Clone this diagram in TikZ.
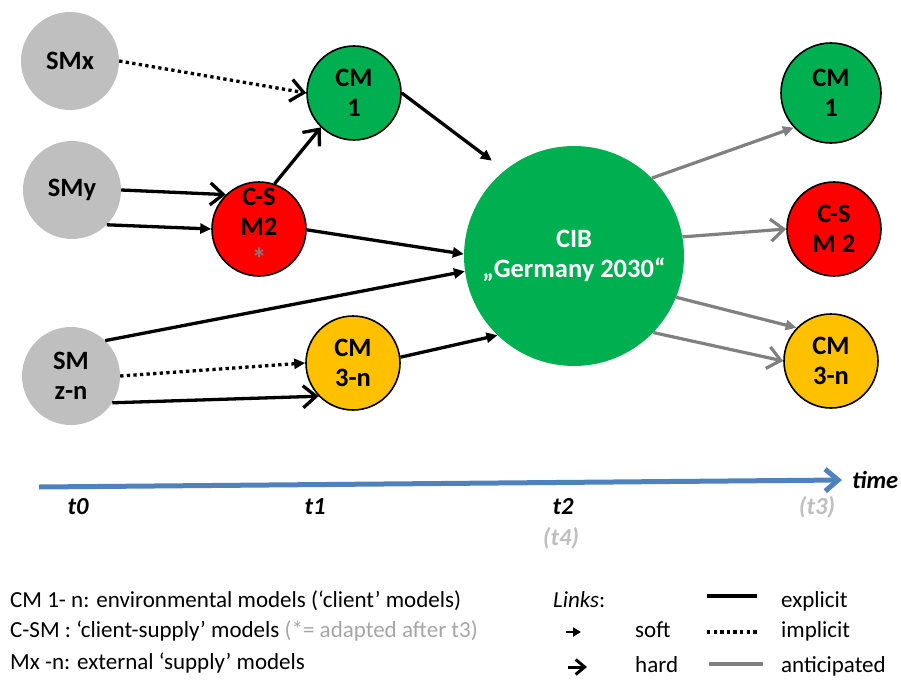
\documentclass[tikz,border=0pt]{standalone}
\usepackage{fontspec}
\setmainfont{Carlito}
\usetikzlibrary{arrows.meta}

\definecolor{smgray}{HTML}{BFBFBF}
\definecolor{cmgreen}{HTML}{00B050}
\definecolor{csred}{HTML}{FF0000}
\definecolor{cmyellow}{HTML}{FFC000}
\definecolor{antgray}{HTML}{808080}
\definecolor{axisblue}{HTML}{4F81BD}
\definecolor{paletext}{HTML}{BFBFBF}
\definecolor{notetext}{HTML}{A6A6A6}

\begin{document}
\begin{tikzpicture}[x=1pt,y=-1pt,
  lbl/.style={font=\fontsize{26.5}{30}\selectfont\bfseries, align=center},
  supply/.style={circle, fill=smgray, minimum size=98pt, inner sep=0pt, lbl},
  model/.style={circle, draw=black, line width=1.6pt, minimum size=94pt, inner sep=0pt, lbl},
  link/.style={line width=3.3pt, draw=black},
  anticip/.style={line width=3.2pt, draw=antgray},
  implicit/.style={dash pattern=on 3.3pt off 3.3pt},
  hard/.style={-{Straight Barb[length=13pt,width=22pt]}},
  soft/.style={-{Triangle[length=11pt,width=10pt]}},
  tlabel/.style={font=\fontsize{24.5}{28}\selectfont\bfseries\itshape},
  legend/.style={font=\fontsize{23}{26}\selectfont, anchor=base west, inner sep=0pt}
]
\useasboundingbox (0,0) rectangle (901,682);

% supply models
\node[supply] (SMx)  at (70,61)  {SMx};
\node[supply] (SMy)  at (72,190) {SMy};
\node[supply] (SMzn) at (71,376) {SM\\z-n};

% client and client-supply models at t1
\node[model, fill=cmgreen]  (CM1)  at (354,93)  {CM\\1};
\node[model, fill=csred]    (CSM2) at (259,229) {C-S\\M2\\[4pt]{\fontsize{30}{30}\selectfont\color{antgray}*}};
\node[model, fill=cmyellow] (CM3n) at (353,363) {CM\\3-n};

% central CIB scenario
\node[circle, fill=cmgreen, minimum size=220pt, inner sep=0pt, lbl, text=white] (CIB) at (574,256) {CIB\\„Germany 2030“};

% models at t3
\node[model, fill=cmgreen, minimum size=100pt] (CM1r)  at (831,93)  {CM\\1};
\node[model, fill=csred]    (CSM2r) at (834,229) {C-S\\M 2};
\node[model, fill=cmyellow] (CM3nr) at (831,361) {CM\\3-n};

% explicit and implicit links
\draw[link, implicit, hard] (SMx.0) -- (CM1.180);
\draw[link, hard] (SMy.0) -- (CSM2.134);
\draw[link, soft] (SMy.-45) -- (CSM2.180);
\draw[link, hard] (CSM2.71) -- (CM1.226);
\draw[link, soft, shorten >=16pt] (CM1.0) -- (CIB.129);
\draw[link, soft] (CSM2.-1) -- (CIB.179);
\draw[link, soft] (SMzn.46) -- (CIB.188);
\draw[link, implicit, soft] (SMzn.0) -- (CM3n.180);
\draw[link, hard] (SMzn.-33) -- (CM3n.224);
\draw[link, soft] (CM3n.7) -- (CIB.226);

% anticipated links
\draw[anticip, soft] (CIB.45) -- (CM1r.223);
\draw[anticip, hard] (CIB.10) -- (CSM2r.180);
\draw[anticip, soft] (CIB.-22) -- (CM3nr.136);
\draw[anticip, hard] (CIB.-44) -- (CM3nr.180);

% time axis
\coordinate (tstart) at (39,487);
\coordinate (tend) at (842,480);
\draw[axisblue, line width=5pt, -{Straight Barb[length=13pt,width=22pt]}] (tstart) -- (tend);
\node[tlabel, anchor=west, inner sep=0pt] (timelbl) at (852,480) {time};
\node[tlabel] (t0) at (78,507) {t0};
\node[tlabel] (t1) at (315,507) {t1};
\node[tlabel] (t2) at (563,507) {t2};
\node[tlabel, text=paletext] (t3) at (817,507) {(t3)};
\node[tlabel, text=paletext] (t4) at (561,538) {(t4)};

% legend: model types
\node[legend] (lg1) at (10,607) {CM 1- n: environmental models (‘client’ models)};
\node[legend] (lg2) at (10,637) {C-SM : ‘client-supply’ models {\color{notetext}(*= adapted after t3)}};
\node[legend] (lg3) at (10,669) {Mx -n: external ‘supply’ models};

% legend: link types
\node[legend] (lnk) at (553,607) {\textit{Links}:};
\node[legend] (lsoft) at (635,637) {soft};
\node[legend] (lhard) at (635,672) {hard};
\node[legend] (lexp) at (781,607) {explicit};
\node[legend] (limp) at (781,637) {implicit};
\node[legend] (lant) at (781,672) {anticipated};

\coordinate (se1) at (566,632);
\coordinate (se2) at (581,632);
\draw[line width=2.2pt, -{Triangle[length=8pt,width=9pt]}] (se1) -- (se2);
\coordinate (he1) at (568,667);
\coordinate (he2) at (587,667);
\draw[line width=3pt, -{Straight Barb[length=9pt,width=15pt]}] (he1) -- (he2);

\coordinate (ex1) at (707,596);
\coordinate (ex2) at (757,596);
\draw[link] (ex1) -- (ex2);
\coordinate (im1) at (707,632);
\coordinate (im2) at (759,632);
\draw[link, implicit] (im1) -- (im2);
\coordinate (an1) at (709,664);
\coordinate (an2) at (763,664);
\draw[anticip] (an1) -- (an2);
\end{tikzpicture}
\end{document}
